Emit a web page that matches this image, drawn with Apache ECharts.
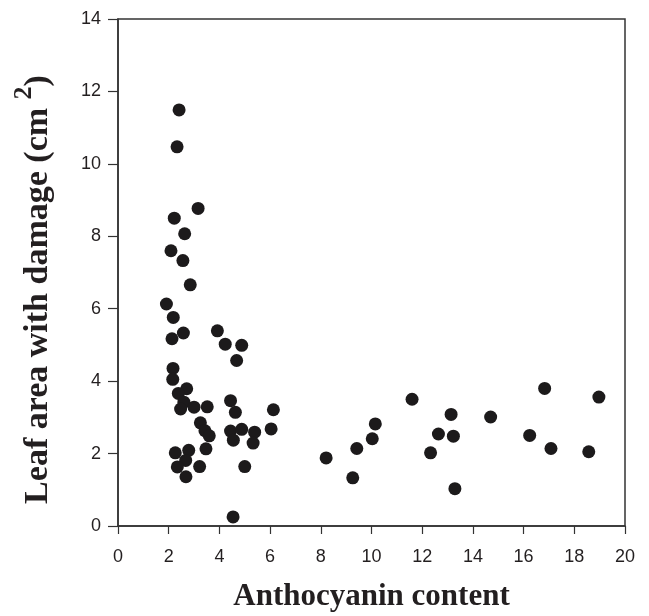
<!DOCTYPE html>
<html>
<head>
<meta charset="utf-8">
<script src="https://cdn.jsdelivr.net/npm/echarts@6/dist/echarts.min.js"></script>
<style>html,body{margin:0;padding:0;background:#fff}#c{width:649px;height:616px}</style>
</head>
<body>
<div id="c"></div>
<script>
const anthocyanin = [2.41,2.33,3.16,2.22,2.63,2.09,2.56,2.85,1.91,2.18,2.58,2.13,3.92,4.23,4.88,4.68,2.17,2.16,2.71,2.38,2.60,2.47,3.0,3.52,4.44,4.63,3.25,3.43,3.60,4.44,4.55,4.88,5.39,5.33,2.26,2.79,2.67,2.34,3.22,2.68,3.47,5.0,4.54,6.13,6.04,8.21,9.26,9.42,10.03,10.15,11.60,12.33,12.64,13.14,13.23,13.29,14.70,16.24,16.83,17.08,18.57,18.97];
const leafDamage = [11.49,10.47,8.77,8.50,8.07,7.60,7.33,6.66,6.13,5.76,5.33,5.17,5.39,5.02,4.99,4.57,4.35,4.05,3.79,3.66,3.42,3.23,3.28,3.29,3.46,3.14,2.85,2.63,2.49,2.62,2.37,2.67,2.59,2.29,2.02,2.09,1.81,1.63,1.64,1.36,2.13,1.64,0.25,3.21,2.68,1.88,1.33,2.14,2.41,2.82,3.50,2.02,2.54,3.08,2.48,1.03,3.01,2.50,3.80,2.14,2.05,3.56];
const xTicks = [0,2,4,6,8,10,12,14,16,18,20];
const yTicks = [0,2,4,6,8,10,12,14];

const points = anthocyanin.map((x, i) => [x, leafDamage[i]]);
const chart = echarts.init(document.getElementById('c'), null, {renderer: 'canvas'});
const axisCol = '#333';
chart.setOption({
  animation: false,
  grid: {left: 118, right: 24, top: 19, bottom: 90, containLabel: false, outerBoundsMode: 'none', show: true, borderColor: axisCol, borderWidth: 1.5},
  xAxis: {
    type: 'value', min: xTicks[0], max: xTicks[xTicks.length-1], interval: 2,
    name: 'Anthocyanin content', nameLocation: 'middle', nameGap: 55,
    nameTextStyle: {fontFamily: 'Liberation Serif', fontWeight: 'bold', fontSize: 31, color: '#231f20'},
    axisLine: {show: true, lineStyle: {color: axisCol, width: 1.5}},
    axisTick: {show: true, inside: false, length: 8, lineStyle: {color: axisCol, width: 1.2}},
    axisLabel: {margin: 22, fontFamily: 'Liberation Sans', fontSize: 18, color: '#231f20'},
    splitLine: {show: false}
  },
  yAxis: {
    type: 'value', min: yTicks[0], max: yTicks[yTicks.length-1], interval: 2,
    name: '{b|Leaf area with damage (cm }{s|2}{b|)}', nameLocation: 'middle', nameGap: 63,
    nameTextStyle: {
      padding: [0, 34, 0, 0],
      rich: {
        b: {fontFamily: 'Liberation Serif', fontWeight: 'bold', fontSize: 34, color: '#231f20', lineHeight: 44, verticalAlign: 'bottom'},
        s: {fontFamily: 'Liberation Serif', fontWeight: 'bold', fontSize: 26, color: '#231f20', lineHeight: 44, verticalAlign: 'top'}
      }
    },
    axisLine: {show: true, lineStyle: {color: axisCol, width: 1.5}},
    axisTick: {show: true, inside: false, length: 10, lineStyle: {color: axisCol, width: 1.2}},
    axisLabel: {margin: 17, fontFamily: 'Liberation Sans', fontSize: 18, color: '#231f20'},
    splitLine: {show: false}
  },
  series: [{
    type: 'scatter',
    data: points,
    symbol: 'circle',
    symbolSize: 13,
    itemStyle: {color: '#1c1a1b', opacity: 1}
  }]
});
</script>
</body>
</html>
